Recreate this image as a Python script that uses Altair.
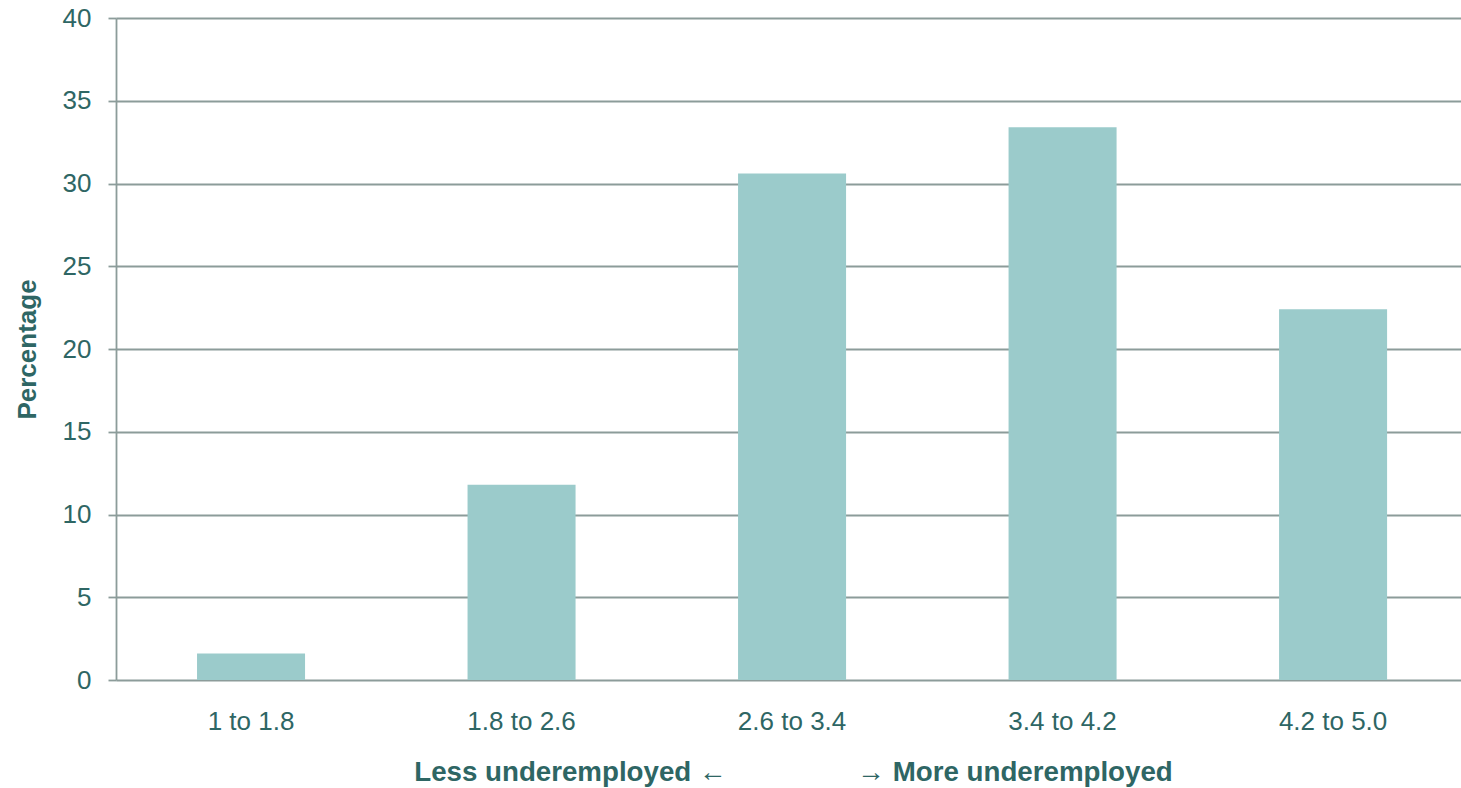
import altair as alt
import pandas as pd

categories = ["1 to 1.8", "1.8 to 2.6", "2.6 to 3.4", "3.4 to 4.2", "4.2 to 5.0"]
values = [1.6, 11.8, 30.6, 33.4, 22.4]
y_ticks = [0, 5, 10, 15, 20, 25, 30, 35, 40]
x_title = "Less underemployed \u2190" + "\u00a0" * 17 + "\u2192 More underemployed"
y_title = "Percentage"

df = pd.DataFrame({"cat": categories, "val": values})

TEXT = "#2E6664"
GRID = "#8C9C9A"
BAR = "#9BCBCB"
FONT = "Liberation Sans"

chart = alt.Chart(df).mark_bar(color=BAR).encode(
    x=alt.X(
        "cat:N",
        sort=categories,
        scale=alt.Scale(paddingInner=0.6007, paddingOuter=0.2864, align=0.523),
        axis=alt.Axis(
            title=x_title,
            labelAngle=0,
            ticks=False,
            tickSize=0,
            domain=False,
            grid=False,
            labelFont=FONT,
            labelFontSize=26,
            labelColor=TEXT,
            labelBaseline="middle",
            labelPadding=41,
            titleFont=FONT,
            titleFontSize=27.7,
            titleFontWeight="bold",
            titleColor=TEXT,
            titleX=677,
            titleY=92,
            titleAlign="center",
            titleBaseline="middle",
        ),
    ),
    y=alt.Y(
        "val:Q",
        scale=alt.Scale(domain=[0, 40], nice=False),
        axis=alt.Axis(
            title=y_title,
            values=y_ticks,
            grid=True,
            gridColor=GRID,
            gridWidth=1.8,
            domain=True,
            domainColor=GRID,
            domainWidth=1.8,
            ticks=True,
            tickColor=GRID,
            tickWidth=1.8,
            tickSize=8,
            labelFont=FONT,
            labelFontSize=26,
            labelColor=TEXT,
            labelPadding=17,
            labelBaseline="middle",
            titleFont=FONT,
            titleFontSize=26,
            titleFontWeight="bold",
            titleColor=TEXT,
            titleAngle=-90,
            titleX=-89,
            titleY=331,
            titleAlign="center",
            titleBaseline="middle",
        ),
    ),
).properties(
    width=1345,
    height=662,
    autosize=alt.AutoSizeParams(type="none"),
    padding={"left": 116, "top": 18, "right": 0, "bottom": 108},
    background="white",
).configure_view(stroke=None)

chart.save("out.html", embed_options={"renderer": "svg", "actions": False})
